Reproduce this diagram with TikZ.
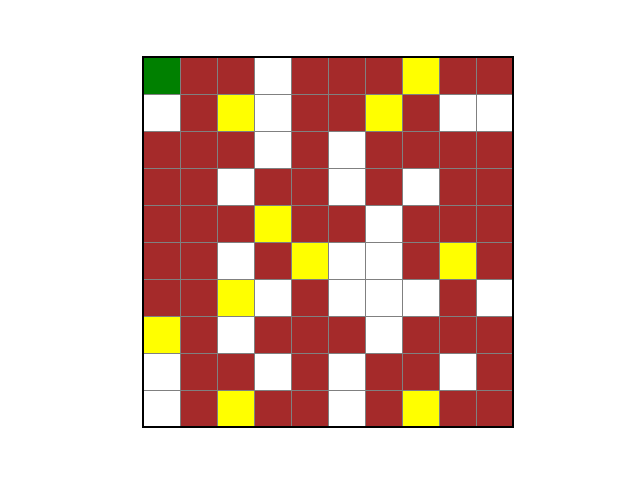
\documentclass[tikz,border=0pt]{standalone}
\usepackage{tikz}

\definecolor{colR}{RGB}{165,42,42}
\definecolor{colW}{RGB}{255,255,255}
\definecolor{colY}{RGB}{255,255,0}
\definecolor{colG}{RGB}{0,128,0}

\begin{document}
\begin{tikzpicture}[every path/.style={line width=0.7pt}]
		\useasboundingbox (0,0) rectangle (16,12);
		\begin{scope}[shift={(3.575,10.575)}, x=0.925cm, y=-0.925cm]
			\foreach \row [count=\i from 0] in {
				{G,R,R,W,R,R,R,Y,R,R},
				{W,R,Y,W,R,R,Y,R,W,W},
				{R,R,R,W,R,W,R,R,R,R},
				{R,R,W,R,R,W,R,W,R,R},
				{R,R,R,Y,R,R,W,R,R,R},
				{R,R,W,R,Y,W,W,R,Y,R},
				{R,R,Y,W,R,W,W,W,R,W},
				{Y,R,W,R,R,R,W,R,R,R},
				{W,R,R,W,R,W,R,R,W,R},
				{W,R,Y,R,R,W,R,Y,R,R}}
				\foreach \c [count=\j from 0] in \row
					\filldraw[fill=col\c, draw=gray] (\j,\i) rectangle ++(1,1);
			\draw[black, line width=0.8pt] (0,0) rectangle (10,10);
		\end{scope}
	\end{tikzpicture}
\end{document}
